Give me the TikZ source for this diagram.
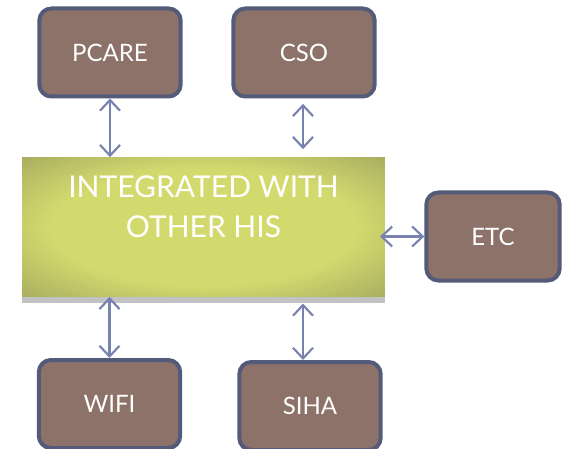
\documentclass[tikz,border=0pt]{standalone}
\usepackage{fontspec}
\setmainfont{Lato}
\usetikzlibrary{arrows.meta,shadows}

\definecolor{boxfill}{RGB}{140,114,104}
\definecolor{boxline}{RGB}{84,90,122}
\definecolor{arrowcol}{RGB}{120,130,175}
\definecolor{greenin}{RGB}{210,218,110}
\definecolor{greenout}{RGB}{168,172,95}
\pgfdeclareradialshading{hisshade}{\pgfpoint{0bp}{0bp}}{color(0bp)=(greenin); color(21bp)=(greenin); color(36bp)=(greenout); color(50bp)=(greenout)}

\tikzset{every picture/.style={line width=0.75pt}}
\tikzset{
  sysbox/.style={draw=boxline, line width=3pt, fill=boxfill, rounded corners=9pt,
    minimum width=106pt, minimum height=66pt, text=white, font=\fontsize{18}{21}\selectfont},
  hisbox/.style={shading=hisshade,
    minimum width=272pt, minimum height=104pt,
    drop shadow={shadow xshift=0pt, shadow yshift=-5pt, opacity=0.4, fill=black!60}},
  link/.style={draw=arrowcol, line width=1.6pt, {Straight Barb[length=8pt,width=15pt]}-{Straight Barb[length=8pt,width=15pt]}}
}

\begin{document}
\begin{tikzpicture}[x=0.75pt,y=0.75pt,yscale=-1,xscale=1]
\useasboundingbox (0,0) rectangle (564,449);

% Central block
\node (his) at (203.5,227) [hisbox] {};
% Text Node
\node (histext) at (his.center) [yshift=15pt, align=center, text=white, font=\fontsize{22.5}{30}\selectfont] {INTEGRATED WITH\\OTHER HIS};

% Outer systems
\node (pcare) at (110,52.5) [sysbox] {PCARE};
\node (cso) at (304,52.5) [sysbox] {CSO};
\node (etc) at (493,236.5) [sysbox, minimum width=100pt] {ETC};
\node (wifi) at (109.5,404) [sysbox] {WIFI};
\node (siha) at (310,406) [sysbox] {SIHA};

% Links
\draw [link] (pcare.south) -- (pcare.south |- his.north);
\draw [link, shorten <=4pt, shorten >=6pt] (cso.south -| 303,0) -- (his.north -| 303,0);
\draw [link, shorten <=-4pt] (his.east |- etc.west) -- (etc.west);
\draw [link] (his.south -| wifi.north) -- (wifi.north);
\draw [link, shorten <=5pt] (his.south -| 303,0) -- (siha.north -| 303,0);

\end{tikzpicture}
\end{document}
